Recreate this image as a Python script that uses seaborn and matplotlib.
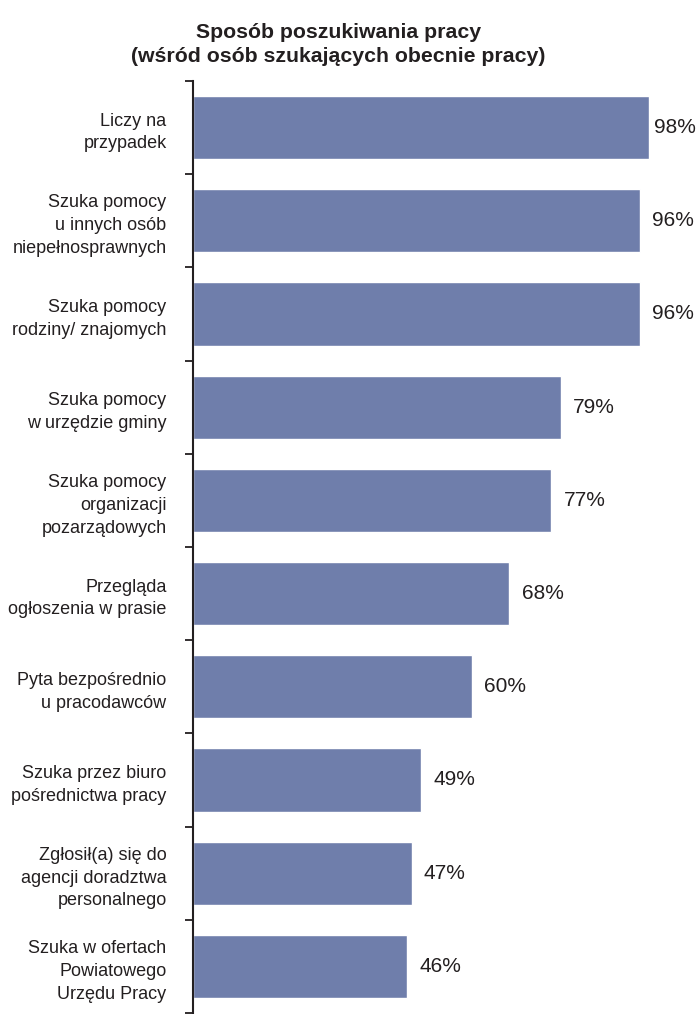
import numpy as np
import pandas as pd
import matplotlib
matplotlib.use('Agg')
import matplotlib.pyplot as plt
import seaborn as sns

# Dane z wykresu
kategorie = [
    'Liczy na\nprzypadek',
    'Szuka pomocy\nu innych osób\nniepełnosprawnych',
    'Szuka pomocy\nrodziny/ znajomych',
    'Szuka pomocy\nw urzędzie gminy',
    'Szuka pomocy\norganizacji\npozarządowych',
    'Przegląda\nogłoszenia w prasie',
    'Pyta bezpośrednio\nu pracodawców',
    'Szuka przez biuro\npośrednictwa pracy',
    'Zgłosił(a) się do\nagencji doradztwa\npersonalnego',
    'Szuka w ofertach\nPowiatowego\nUrzędu Pracy',
]
wartosci = [98, 96, 96, 79, 77, 68, 60, 49, 47, 46]

df = pd.DataFrame({'kategoria': kategorie, 'procent': wartosci})

sns.set_style('white')
plt.rcParams['font.family'] = ['Liberation Sans', 'DejaVu Sans']

fig = plt.figure(figsize=(6.96, 10.14), dpi=100)
ax = fig.add_axes([193 / 696, 1 / 1014, 1 - 193 / 696, (1013 - 81) / 1014])

sns.barplot(data=df, y='kategoria', x='procent', orient='h', color='#6f7eab',
            saturation=1, width=0.68, ax=ax)

xmax = 108.1
ax.set_xlim(0, xmax)
ax.set_ylim(len(kategorie) - 0.5, -0.5)
for i, v in enumerate(wartosci):
    # etykieta za słupkiem, ale nie poza rysunkiem
    ax.text(min(v + 2.6, xmax - 9.0), i, f'{v}%', va='center', ha='left',
            fontsize=15, color='#231f20')

# kreski między kategoriami
ax.set_yticks(np.arange(len(kategorie) + 1) - 0.5, minor=True)
ax.set_yticks(range(len(kategorie)))
ax.set_yticklabels(kategorie, fontsize=13, linespacing=1.45, color='#231f20')
ax.tick_params(axis='y', which='major', length=0, pad=19)
ax.tick_params(axis='y', which='minor', left=True, length=6, width=1.3, color='#231f20')
ax.set_xticks([])
ax.set_xlabel('')
ax.set_ylabel('')
for s in ['top', 'right', 'bottom']:
    ax.spines[s].set_visible(False)
ax.spines['left'].set_linewidth(1.5)
ax.spines['left'].set_color('#231f20')

fig.text(0.486, 0.956, 'Sposób poszukiwania pracy\n(wśród osób szukających obecnie pracy)',
         ha='center', va='center', fontsize=15.3, fontweight='bold', linespacing=1.3,
         color='#231f20')

fig.savefig('out.png', dpi=100)
